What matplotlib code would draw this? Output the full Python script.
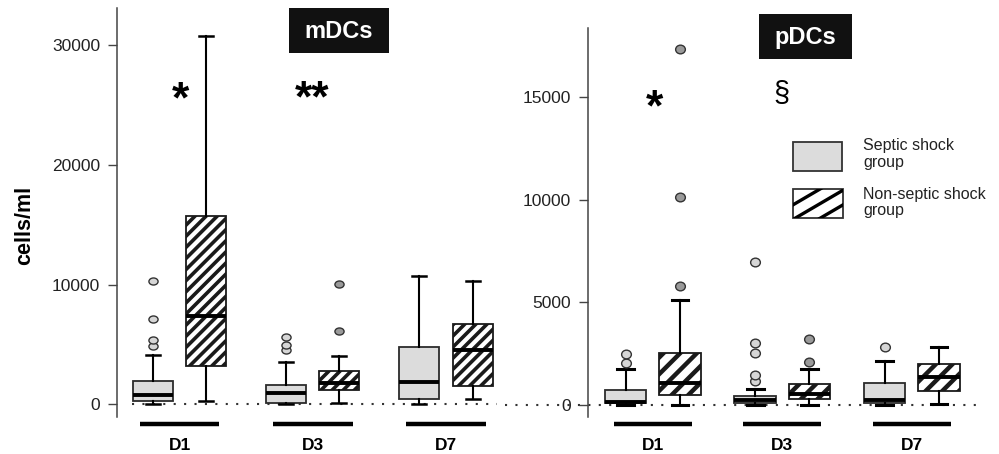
import matplotlib
matplotlib.use("Agg")
import matplotlib.pyplot as plt
import numpy as np
from matplotlib.patches import Rectangle
from matplotlib.lines import Line2D
from matplotlib.path import Path
from matplotlib.transforms import Affine2D, blended_transform_factory

plt.rcParams['font.family'] = ['Liberation Sans', 'DejaVu Sans']

# Dados (cells/ml)
days = ['D1', 'D3', 'D7']
groups = ['Septic shock\ngroup', 'Non-septic shock\ngroup']

# mDCs: [whislo, q1, med, q3, whishi] por dia
mdc_septic = [[0, 280, 750, 1920, 4080],
              [0, 80, 950, 1640, 3530],
              [0, 450, 1830, 4780, 10700]]
mdc_septic_out = [[4860, 5330, 7140, 10280], [4550, 4920, 5640], []]
mdc_nonseptic = [[280, 3220, 7400, 15750, 30750],
                 [80, 1170, 1800, 2780, 4060],
                 [470, 1500, 4560, 6670, 10280]]
mdc_nonseptic_out = [[], [6140, 10060], []]

# pDCs
pdc_septic = [[0, 80, 155, 745, 1740],
              [0, 110, 240, 440, 795],
              [0, 110, 260, 1055, 2140]]
pdc_septic_out = [[2030, 2500], [1180, 1480, 2550, 3030, 6970], [2825]]
pdc_nonseptic = [[0, 470, 1090, 2550, 5110],
                 [0, 280, 540, 1010, 1770],
                 [60, 665, 1380, 1980, 2810]]
pdc_nonseptic_out = [[5810, 10150, 17370], [2110, 3200], []]

mdc_ticks = [0, 10000, 20000, 30000]
pdc_ticks = [0, 5000, 10000, 15000]

W, H = 999, 454
fig = plt.figure(figsize=(W / 100, H / 100), dpi=100)
# transformação em pixels (origem no canto superior esquerdo)
PX = Affine2D().scale(1 / W, -1 / H).translate(0, 1) + fig.transFigure

axL = fig.add_axes([117 / W, 37 / H, 383 / W, 409 / H])
axR = fig.add_axes([588 / W, 37 / H, 397 / W, 389 / H])


def oval(aspect):
    return Path.unit_circle().transformed(Affine2D().scale(aspect, 1))


def make_stats(vals, outs):
    stats = []
    for v, o in zip(vals, outs):
        stats.append({'whislo': v[0], 'q1': v[1], 'med': v[2], 'q3': v[3],
                      'whishi': v[4], 'fliers': o})
    return stats


def draw_panel(ax, septic, septic_out, nonseptic, nonseptic_out, ticks, ylim,
               xlim, off, width, capw, hatch, hatch_lw, cap_lw, med_lw, ms, asp):
    pos = np.arange(1, len(days) + 1)
    common = dict(widths=width, capwidths=capw, patch_artist=True,
                  whiskerprops=dict(color='black', lw=1.5),
                  capprops=dict(color='black', lw=cap_lw),
                  medianprops=dict(color='black', lw=med_lw, solid_capstyle='butt'))
    ax.bxp(make_stats(septic, septic_out), positions=pos - off,
           boxprops=dict(facecolor='#dcdcdc', edgecolor='#2b2b2b', lw=1.3),
           flierprops=dict(marker=oval(asp), markersize=ms, markerfacecolor='#d6d6d6',
                           markeredgecolor='#333333', markeredgewidth=1.0),
           **common)
    b2 = ax.bxp(make_stats(nonseptic, nonseptic_out), positions=pos + off,
                boxprops=dict(facecolor='white', edgecolor='#1a1a1a', lw=1.3, hatch=hatch),
                flierprops=dict(marker=oval(asp), markersize=ms, markerfacecolor='#9a9a9a',
                                markeredgecolor='#333333', markeredgewidth=1.0),
                **common)
    for box in b2['boxes']:
        if hasattr(box, 'set_hatch_linewidth'):
            box.set_hatch_linewidth(hatch_lw)
    ax.set_xlim(*xlim)
    ax.set_ylim(*ylim)
    ax.set_yticks(ticks)
    ax.set_yticklabels([str(t) for t in ticks], fontsize=12.5, color='#222222')
    ax.set_xticks([])
    for s in ['top', 'right', 'bottom']:
        ax.spines[s].set_visible(False)
    ax.spines['left'].set_color('#444444')
    ax.spines['left'].set_linewidth(1.1)
    ax.tick_params(axis='y', length=6.5, width=1.0, color='#444444', pad=5.5)
    ax.patch.set_alpha(0)
    # barras dos dias e rótulos
    tr = blended_transform_factory(ax.transData, ax.transAxes)
    bar_y = -7 / ax.bbox.height
    lab_y = -33 / ax.bbox.height
    for p, d in zip(pos, days):
        ax.plot([p - 0.30, p + 0.30], [bar_y, bar_y], transform=tr, clip_on=False,
                color='black', lw=3.2, solid_capstyle='butt')
        ax.text(p, lab_y, d, transform=tr, ha='center', va='baseline',
                fontsize=12.5, weight='bold')


plt.rcParams['hatch.linewidth'] = 2.6
draw_panel(axL, mdc_septic, mdc_septic_out, mdc_nonseptic, mdc_nonseptic_out,
           mdc_ticks, (-1060, 33090), (0.531, 3.405), 0.2, 0.30, 0.105,
           '///', 2.6, 1.8, 2.8, 6.6, 1.3)
plt.rcParams['hatch.linewidth'] = 3.2
draw_panel(axR, pdc_septic, pdc_septic_out, pdc_nonseptic, pdc_nonseptic_out,
           pdc_ticks, (-585, 18380), (0.5, 3.565), 0.21, 0.32, 0.13,
           '//', 3.2, 2.2, 2.8, 7.0, 1.12)

# linhas pontilhadas em zero
axL.axhline(0, xmin=(132 - 117) / 383, xmax=(497 - 117) / 383, color='#333333',
            lw=1.5, ls=(0, (1, 4)), zorder=0)
axR.axhline(0, xmin=(505 - 588) / 397, xmax=(980 - 588) / 397, color='#333333',
            lw=1.5, ls=(0, (1, 4)), zorder=0, clip_on=False)

# eixo y
fig.text(25 / W, 1 - 225 / H, 'cells/ml', rotation=90, ha='center', va='center',
         fontsize=15.5, weight='bold')

# títulos em caixa preta
for (x0, y0, x1, y1), txt in [((289, 8, 389, 53), 'mDCs'), ((759, 14, 852, 59), 'pDCs')]:
    fig.add_artist(Rectangle((x0, y1), x1 - x0, y0 - y1, transform=PX,
                             facecolor='#111111', edgecolor='none'))
    fig.text((x0 + x1) / 2 / W, 1 - ((y0 + y1) / 2 + 1) / H, txt, ha='center',
             va='center', fontsize=17, weight='bold', color='white')

# marcas de significância
fig.text(180 / W, 1 - 112 / H, '*', ha='center', va='baseline', fontsize=32, weight='bold')
fig.text(312 / W, 1 - 111 / H, '**', ha='center', va='baseline', fontsize=32, weight='bold')
fig.text(654 / W, 1 - 120 / H, '*', ha='center', va='baseline', fontsize=32, weight='bold')
fig.text(781 / W, 1 - 102 / H, '§', ha='center', va='baseline', fontsize=21)

# legenda manual
fig.add_artist(Rectangle((793, 171), 49, -29, transform=PX, facecolor='#dcdcdc',
                         edgecolor='#333333', lw=1.3))
hrect = Rectangle((793, 218.3), 50, -29, transform=PX, facecolor='white',
                  edgecolor='#333333', lw=1.3)
fig.add_artist(hrect)
for x0 in [770, 795, 820]:
    ln = Line2D([x0 - 20, x0 + 80], [218.3 + 20 * 0.585, 218.3 - 80 * 0.585],
                transform=PX, color='black', lw=2.4, solid_capstyle='butt')
    ln.set_clip_path(hrect)
    fig.add_artist(ln)
for (yb, lines) in [(150, groups[0].split('\n')), (199, groups[1].split('\n'))]:
    for k, t in enumerate(lines):
        fig.text(863 / W, 1 - (yb + 16.5 * k) / H, t, ha='left', va='baseline',
                 fontsize=11.5, color='#222222')

fig.savefig('out.png', dpi=100)
